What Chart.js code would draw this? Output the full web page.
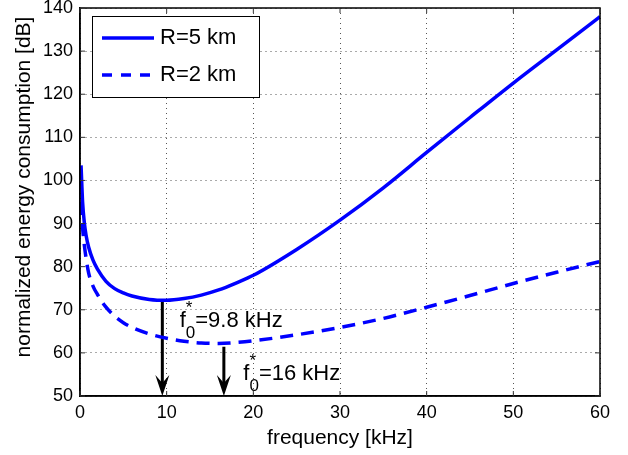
<!DOCTYPE html>
<html>
<head>
<meta charset="utf-8">
<script src="https://cdn.jsdelivr.net/npm/chart.js@4"></script>
<style>
  body { margin: 0; background: #fff; }
</style>
</head>
<body>
<canvas id="energy" width="628" height="455"></canvas>
<script>
// frequency samples [kHz]
var freq = [0.12, 0.2, 0.3, 0.5, 0.7, 1, 1.5, 2, 3, 4, 5, 6, 8, 10, 12, 14, 16, 18, 20, 25, 30, 35, 40, 45, 50, 55, 60];
// normalized energy consumption [dB]
var energyR5 = [103.5, 99.5, 95, 90.2, 87.3, 84.5, 81.5, 79.5, 76.6, 74.9, 73.9, 73.2, 72.4, 72.2, 72.6, 73.4, 74.6, 76.2, 78, 84, 90.8, 98.3, 106.5, 114.6, 122.6, 130.3, 138];
var energyR2 = [95, 92, 89, 85, 82, 78.5, 75.5, 73.6, 70.6, 68.5, 67, 65.9, 64.4, 63.4, 62.7, 62.3, 62.2, 62.4, 62.8, 64.2, 65.9, 68, 70.6, 73.3, 76.1, 78.7, 81.2];
var seriesLabels = ['R=5 km', 'R=2 km'];

// optimal frequency arrows: x position and start level
var optFreq = [9.5, 16.6];
var optLevel = [72, 61.4];
var optText = ['=9.8 kHz', '=16 kHz'];
var optTextAt = [[11.5, 66.1], [18.85, 53.7]];

var xTicks = [0, 10, 20, 30, 40, 50, 60];
var yTicks = [50, 60, 70, 80, 90, 100, 110, 120, 130, 140];

var FONT = '"Liberation Sans", Arial, Helvetica, sans-serif';
var BLUE = '#0000ff';

function pts(xs, ys) {
  return xs.map(function(x, i) { return { x: x, y: ys[i] }; });
}

var datasets = [
  { label: seriesLabels[0], data: pts(freq, energyR5), borderColor: BLUE, borderWidth: 3.5,
    pointRadius: 0, cubicInterpolationMode: 'monotone', fill: false },
  { label: seriesLabels[1], data: pts(freq, energyR2), borderColor: BLUE, borderWidth: 3.5,
    borderDash: [13, 8], pointRadius: 0, cubicInterpolationMode: 'monotone', fill: false }
];
optFreq.forEach(function(f, i) {
  datasets.push({ label: 'arrow' + i, data: [{ x: f, y: optLevel[i] }, { x: f, y: 52 }],
    borderColor: '#000', borderWidth: 3, pointRadius: 0, fill: false });
});

// frame, inner ticks, arrow heads, annotations, legend, y title
var extras = {
  id: 'extras',
  afterDatasetsDraw: function(chart) {
    var ctx = chart.ctx, a = chart.chartArea;
    var xs = chart.scales.x, ys = chart.scales.y;
    ctx.save();

    // box
    ctx.strokeStyle = '#000';
    ctx.lineWidth = 1.5;
    ctx.strokeRect(a.left, a.top, a.right - a.left, a.bottom - a.top);

    // inward tick marks on all sides
    ctx.lineWidth = 1;
    ctx.strokeStyle = '#333';
    ctx.beginPath();
    xTicks.forEach(function(t) {
      var px = xs.getPixelForValue(t);
      ctx.moveTo(px, a.bottom); ctx.lineTo(px, a.bottom - 5);
      ctx.moveTo(px, a.top); ctx.lineTo(px, a.top + 5);
    });
    yTicks.forEach(function(t) {
      var py = ys.getPixelForValue(t);
      ctx.moveTo(a.left, py); ctx.lineTo(a.left + 5, py);
      ctx.moveTo(a.right, py); ctx.lineTo(a.right - 5, py);
    });
    ctx.stroke();

    // arrow heads
    ctx.fillStyle = '#000';
    optFreq.forEach(function(f) {
      var px = xs.getPixelForValue(f), py = ys.getPixelForValue(50);
      ctx.beginPath();
      ctx.moveTo(px, py);
      ctx.lineTo(px - 7, py - 21);
      ctx.lineTo(px, py - 13);
      ctx.lineTo(px + 7, py - 21);
      ctx.closePath();
      ctx.fill();
    });

    // annotations f0* = ...
    ctx.fillStyle = '#000';
    ctx.textBaseline = 'alphabetic';
    ctx.textAlign = 'left';
    optText.forEach(function(txt, i) {
      var px = xs.getPixelForValue(optTextAt[i][0]);
      var py = ys.getPixelForValue(optTextAt[i][1]);
      ctx.font = '22px ' + FONT;
      ctx.fillText('f', px, py);
      var fw = ctx.measureText('f').width;
      ctx.font = '17px ' + FONT;
      ctx.fillText('0', px + fw, py + 11);
      ctx.fillText('*', px + fw, py - 14);
      var zw = ctx.measureText('0').width;
      ctx.font = '22px ' + FONT;
      ctx.fillText(txt, px + fw + zw, py);
    });

    // legend box
    var lx = a.left + 12, ly = a.top + 8, lw = 167, lh = 81;
    ctx.fillStyle = '#fff';
    ctx.fillRect(lx, ly, lw, lh);
    ctx.strokeStyle = '#000';
    ctx.lineWidth = 1;
    ctx.strokeRect(lx + 0.5, ly + 0.5, lw, lh);
    ctx.font = '22px ' + FONT;
    ctx.textBaseline = 'middle';
    ctx.fillStyle = '#000';
    seriesLabels.forEach(function(lab, i) {
      var ry = ly + 22 + i * 37;
      ctx.strokeStyle = BLUE;
      ctx.lineWidth = 3.5;
      ctx.setLineDash(i === 1 ? [10, 9] : []);
      ctx.beginPath();
      ctx.moveTo(lx + 10, ry); ctx.lineTo(lx + 62, ry);
      ctx.stroke();
      ctx.setLineDash([]);
      ctx.fillText(lab, lx + 68, ry);
    });

    // y axis title
    ctx.save();
    ctx.translate(24, (a.top + a.bottom) / 2 - 15);
    ctx.rotate(-Math.PI / 2);
    ctx.textAlign = 'center';
    ctx.textBaseline = 'middle';
    ctx.font = '21px ' + FONT;
    ctx.fillText('normalized energy consumption [dB]', 0, 0);
    ctx.restore();

    ctx.restore();
  }
};

var chart = new Chart(document.getElementById('energy').getContext('2d'), {
  type: 'line',
  data: { datasets: datasets },
  plugins: [extras],
  options: {
    responsive: false,
    animation: false,
    layout: { padding: { top: 8, right: 28, left: 0, bottom: 0 } },
    plugins: { legend: { display: false }, tooltip: { enabled: false } },
    scales: {
      x: {
        type: 'linear', min: 0, max: 60,
        afterBuildTicks: function(s) { s.ticks = xTicks.map(function(v) { return { value: v }; }); },
        afterFit: function(s) { s.height = 59; s.paddingLeft = 0; s.paddingRight = 0; },
        ticks: { color: '#000', font: { family: FONT, size: 18 }, padding: 6, maxRotation: 0 },
        grid: { color: '#555', lineWidth: 1, drawTicks: false },
        border: { display: true, color: '#000', width: 1.5, dash: [1, 4] },
        title: { display: true, text: 'frequency [kHz]', color: '#000',
                 font: { family: FONT, size: 21 }, padding: { top: 0, bottom: 4 } }
      },
      y: {
        type: 'linear', min: 50, max: 140,
        afterBuildTicks: function(s) { s.ticks = yTicks.map(function(v) { return { value: v }; }); },
        afterFit: function(s) { s.width = 80; s.paddingTop = 0; s.paddingBottom = 0; },
        ticks: { color: '#000', font: { family: FONT, size: 18 }, padding: 7 },
        grid: { color: '#555', lineWidth: 1, drawTicks: false },
        border: { display: true, color: '#000', width: 1.5, dash: [1, 4] }
      }
    }
  }
});
</script>
</body>
</html>
